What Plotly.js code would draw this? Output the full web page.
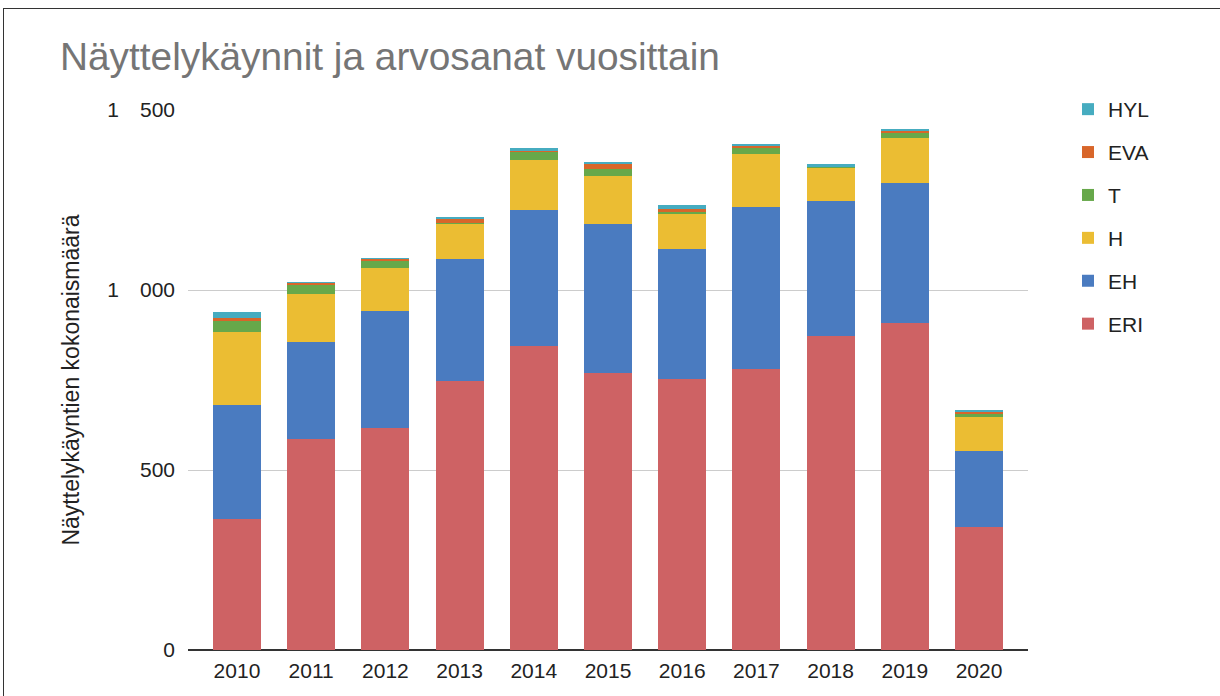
<!DOCTYPE html>
<html>
<head>
<meta charset="utf-8">
<script src="https://cdn.plot.ly/plotly-3.0.1.min.js"></script>
<style>
  html, body { margin: 0; padding: 0; background: #fff; }
  #wrap { position: relative; width: 1220px; height: 696px; overflow: hidden; }
  #chart { position: absolute; left: 0; top: 0; width: 1220px; height: 696px; }
  #frame { position: absolute; left: 3px; top: 8px; width: 1400px; height: 900px;
           border-top: 1.5px solid #333; border-left: 1.5px solid #333; pointer-events: none; }
</style>
</head>
<body>
<div id="wrap">
  <div id="chart"></div>
  <div id="frame"></div>
</div>
<script>
const years = ['2010','2011','2012','2013','2014','2015','2016','2017','2018','2019','2020'];
const ERI = [364, 586, 617, 747, 844, 769, 753, 781, 872, 908, 342];
const EH  = [317, 270, 325, 339, 378, 414, 361, 450, 375, 389, 211];
const H   = [202, 133, 120,  97, 139, 135,  96, 147,  91, 124,  93];
const T   = [ 31,  26,  18,   3,  22,  17,   7,  16,   3,  15,   9];
const EVA = [  9,   4,   5,  10,   4,  16,   9,   7,   1,   6,   6];
const HYL = [ 15,   3,   4,   6,   8,   5,  11,   5,   7,   5,   5];
const yTickVals = [0, 500, 1000, 1500];
const yTickText = ['0', '500', '1\u2003000', '1\u2003500'];

const seriesNames = ['ERI', 'EH', 'H', 'T', 'EVA', 'HYL'];
const seriesData = [ERI, EH, H, T, EVA, HYL];
const seriesColors = ['#ce6264', '#4a7bc0', '#ebbd33', '#67a84a', '#d8662a', '#46acc0'];

const traces = seriesNames.map((n, i) => ({
  type: 'bar',
  name: n,
  x: years,
  y: seriesData[i],
  marker: { color: seriesColors[i] },
  legendgroup: n,
  legendrank: seriesNames.length - i,
  hoverinfo: 'x+y+name'
}));

const layout = {
  width: 1220,
  height: 696,
  barmode: 'stack',
  bargap: 0.353,
  paper_bgcolor: '#ffffff',
  plot_bgcolor: '#ffffff',
  margin: { l: 188, r: 192, t: 110, b: 46 },
  font: { family: 'Liberation Sans, Arial, sans-serif', color: '#222222', size: 21 },
  title: {
    text: 'Näyttelykäynnit ja arvosanat vuosittain',
    font: { family: 'Liberation Sans, Arial, sans-serif', size: 38.8, color: '#757575' },
    x: 60 / 1220, xanchor: 'left', xref: 'container',
    y: 1 - 56 / 696, yanchor: 'middle', yref: 'container'
  },
  xaxis: {
    type: 'category',
    range: [-0.66, 10.66],
    showgrid: false,
    showline: false,
    zeroline: false,
    ticks: '',
    tickfont: { size: 21, color: '#222222' },
    ticklabelstandoff: 6
  },
  yaxis: {
    range: [0, 1500],
    tickvals: yTickVals,
    ticktext: yTickText,
    showgrid: true,
    gridcolor: '#cccccc',
    gridwidth: 1,
    zeroline: true,
    zerolinecolor: '#333333',
    zerolinewidth: 1.5,
    showline: false,
    ticks: '',
    tickfont: { size: 21, color: '#222222' },
    ticklabelstandoff: 12,
    title: {
      text: 'Näyttelykäyntien kokonaismäärä',
      font: { size: 23, color: '#222222' },
      standoff: 21
    }
  },
  legend: {
    traceorder: 'grouped',
    tracegroupgap: 12.6,
    x: 1068 / 1220, xref: 'container', xanchor: 'left',
    y: 1 - 89 / 696, yref: 'container', yanchor: 'top',
    font: { size: 21, color: '#222222' },
    itemwidth: 30,
    bgcolor: 'rgba(0,0,0,0)'
  },
  showlegend: true
};

Plotly.newPlot('chart', traces, layout, { displayModeBar: false, staticPlot: true });
</script>
</body>
</html>
